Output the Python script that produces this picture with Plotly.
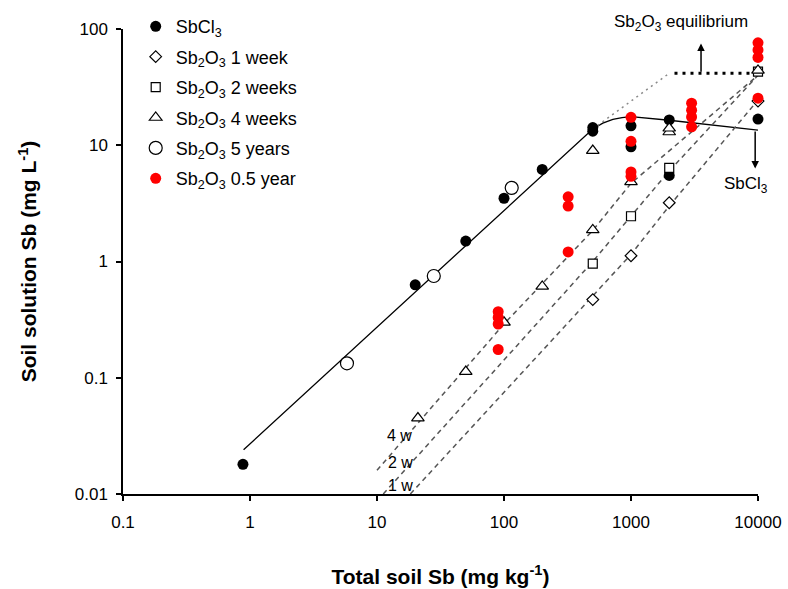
import numpy as np
import plotly.graph_objects as go

# ---- measured data -------------------------------------------------------
sbcl3_x = [0.88, 20, 50, 100, 200, 500, 500, 1000, 1000, 2000, 2000, 10000]
sbcl3_y = [0.018, 0.63, 1.5, 3.5, 6.2, 14.2, 13.2, 14.7, 9.7, 16.5, 5.5, 16.8]

w1_x = [500, 1000, 2000, 10000]
w1_y = [0.47, 1.12, 3.2, 24]

w2_x = [500, 1000, 2000, 10000]
w2_y = [0.96, 2.45, 6.4, 43]

w4_x = [21, 50, 100, 200, 500, 500, 1000, 2000, 2000, 10000]
w4_y = [0.045, 0.113, 0.30, 0.61, 1.87, 9.0, 4.85, 13.0, 14.0, 44]

y5_x = [5.8, 28, 115]
y5_y = [0.133, 0.75, 4.3]

half_x = [90, 90, 90, 90, 320, 320, 320, 1000, 1000, 1000, 1000,
          3000, 3000, 3000, 3000, 10000, 10000, 10000, 10000]
half_y = [0.37, 0.33, 0.29, 0.175, 3.6, 3.0, 1.21, 17.4, 10.8, 5.9, 5.4,
          23, 20, 17.5, 14.4, 76, 66, 57, 25.4]

# fitted / model curves
sbcl3_fit_x = [0.89, 500, 600, 720, 850, 1000, 2000, 10000]
sbcl3_fit_y = [0.024, 13.8, 15.5, 16.7, 17.3, 17.6, 16.4, 13.5]

fit4w_x = [10, 100, 500, 1000, 10000]
fit4w_y = [0.016, 0.29, 1.85, 4.7, 40]
fit2w_x = [11.2, 500, 1000, 2000, 10000]
fit2w_y = [0.01, 1.0, 2.46, 6.0, 40]
fit1w_x = [18.3, 500, 1000, 2000, 10000]
fit1w_y = [0.01, 0.5, 1.15, 3.0, 24.5]

equil_x = [500, 2000]
equil_y = [13.8, 41.6]
plateau_x = [2200, 10000]
plateau_y = [41.6, 41.6]

x_ticks = [0.1, 1, 10, 100, 1000, 10000]
x_ticktext = ["0.1", "1", "10", "100", "1000", "10000"]
y_ticks = [0.01, 0.1, 1, 10, 100]
y_ticktext = ["0.01", "0.1", "1", "10", "100"]

FONT = "Arial, Liberation Sans, sans-serif"
L = np.log10

fig = go.Figure()

# model lines (no legend)
def line(x, y, **kw):
    fig.add_trace(go.Scatter(x=x, y=y, mode="lines", showlegend=False,
                             hoverinfo="skip", cliponaxis=False, **kw))

line(sbcl3_fit_x, sbcl3_fit_y, line=dict(color="black", width=1.3))
for fx, fy in [(fit4w_x, fit4w_y), (fit2w_x, fit2w_y), (fit1w_x, fit1w_y)]:
    line(fx, fy, line=dict(color="#555555", width=1.5, dash="5px,4px"))
line(equil_x, equil_y, line=dict(color="#8a8a8a", width=1.5, dash="2px,4px"))
line(plateau_x, plateau_y, line=dict(color="black", width=3, dash="3px,5px"))

# measured points
def pts(x, y, name, group, **marker):
    fig.add_trace(go.Scatter(x=x, y=y, mode="markers", name=name,
                             legendgroup=group, cliponaxis=False, marker=marker))

pts(sbcl3_x, sbcl3_y, "SbCl<sub>3</sub>", "a",
    symbol="circle", size=11, color="black", line=dict(width=0))
pts(w1_x, w1_y, "Sb<sub>2</sub>O<sub>3</sub> 1 week", "b",
    symbol="diamond", size=9, color="white", line=dict(color="black", width=1.2))
pts(w2_x, w2_y, "Sb<sub>2</sub>O<sub>3</sub> 2 weeks", "c",
    symbol="square", size=9, color="white", line=dict(color="black", width=1.2))
pts(w4_x, w4_y, "Sb<sub>2</sub>O<sub>3</sub> 4 weeks", "d",
    symbol="triangle-up", size=11, color="white", line=dict(color="black", width=1.2))
pts(y5_x, y5_y, "Sb<sub>2</sub>O<sub>3</sub> 5 years", "e",
    symbol="circle", size=13, color="white", line=dict(color="black", width=1.2))
pts(half_x, half_y, "Sb<sub>2</sub>O<sub>3</sub> 0.5 year", "f",
    symbol="circle", size=11, color="#ff0000", line=dict(width=0))

annotations = [
    dict(text="Sb<sub>2</sub>O<sub>3</sub> equilibrium", xref="x", yref="paper",
         x=L(2495), y=1.04, showarrow=False, font=dict(size=17)),
    dict(text="SbCl<sub>3</sub>", xref="x", yref="y", x=L(8110), y=L(4.55),
         showarrow=False, font=dict(size=17)),
    dict(text="4 w", xref="x", yref="y", x=L(15), y=L(0.032), showarrow=False, font=dict(size=16)),
    dict(text="2 w", xref="x", yref="y", x=L(15.2), y=L(0.0188), showarrow=False, font=dict(size=16)),
    dict(text="1 w", xref="x", yref="y", x=L(15.2), y=L(0.0119), showarrow=False, font=dict(size=16)),
    # arrows
    dict(text="", xref="x", yref="y", axref="x", ayref="y",
         x=L(3560), y=L(75), ax=L(3560), ay=L(41.6),
         showarrow=True, arrowhead=2, arrowsize=1, arrowwidth=1.5, arrowcolor="black"),
    dict(text="", xref="x", yref="y", axref="x", ayref="y",
         x=L(9500), y=L(6.3), ax=L(9500), ay=L(13.5),
         showarrow=True, arrowhead=2, arrowsize=1, arrowwidth=1.5, arrowcolor="black"),
]

fig.update_layout(
    width=788, height=589,
    margin=dict(l=123, r=30, t=29, b=95, autoexpand=False),
    paper_bgcolor="white", plot_bgcolor="white",
    font=dict(family=FONT, size=17, color="black"),
    annotations=annotations,
    legend=dict(x=0.02, y=1.045, xanchor="left", yanchor="top",
                bgcolor="rgba(0,0,0,0)", font=dict(size=18),
                tracegroupgap=4, itemsizing="trace"),
    xaxis=dict(type="log", range=[-1, 4], tickvals=x_ticks, ticktext=x_ticktext,
               ticks="outside", ticklen=5, tickwidth=1.5, tickcolor="black",
               showline=True, linecolor="black", linewidth=1.5, automargin=False,
               showgrid=False, zeroline=False, ticklabelstandoff=7,
               tickfont=dict(size=17),
               title=dict(text="<b>Total soil Sb (mg kg<sup>-1</sup>)</b>",
                          font=dict(size=21), standoff=38)),
    yaxis=dict(type="log", range=[-2, 2], tickvals=y_ticks, ticktext=y_ticktext,
               ticks="outside", ticklen=5, tickwidth=1.5, tickcolor="black",
               showline=True, linecolor="black", linewidth=1.5, automargin=False,
               showgrid=False, zeroline=False, ticklabelstandoff=5,
               tickfont=dict(size=17),
               title=dict(text="<b>Soil solution Sb (mg L<sup>-1</sup>)</b>",
                          font=dict(size=21), standoff=32)),
)

fig.write_html("out.html")
